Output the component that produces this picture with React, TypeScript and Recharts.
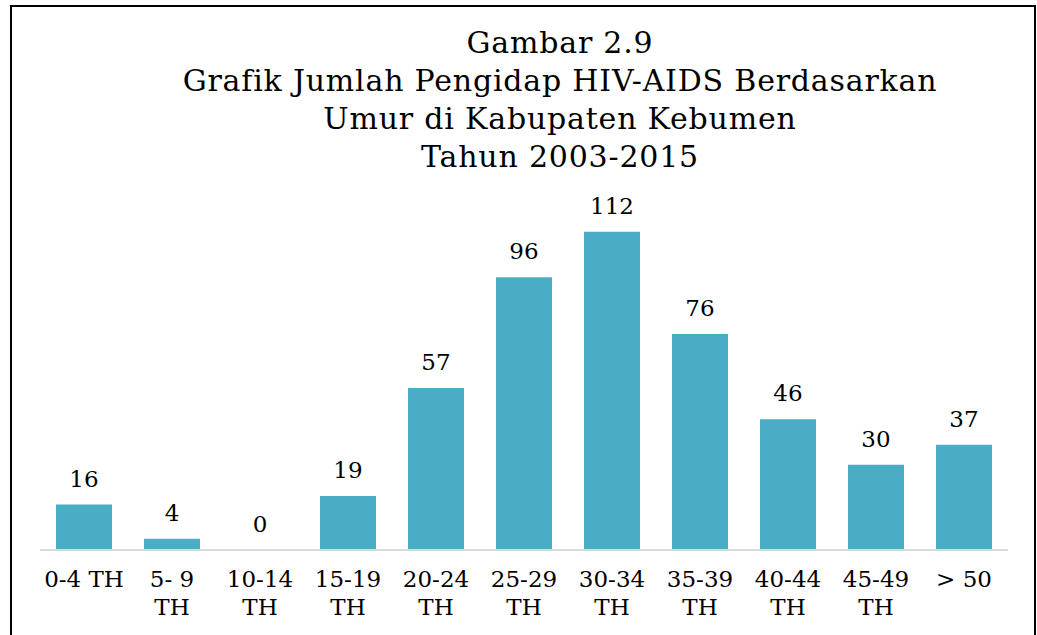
import React from "react";
import { ComposedChart, Bar, Line, XAxis, YAxis, LabelList } from "recharts";

const categories = ["0-4 TH", "5- 9 TH", "10-14 TH", "15-19 TH", "20-24 TH", "25-29 TH", "30-34 TH", "35-39 TH", "40-44 TH", "45-49 TH", "> 50"];
const values = [16, 4, 0, 19, 57, 96, 112, 76, 46, 30, 37];
const titleLines = ["Gambar 2.9", "Grafik Jumlah Pengidap HIV-AIDS Berdasarkan", "Umur di Kabupaten Kebumen", "Tahun 2003-2015"];

const data = categories.map((c, i) => ({ name: c, value: values[i] }));

const FONT = "'DejaVu Serif', serif";

const Tick = (props: any) => {
  const { x, y, payload } = props;
  const label: string = payload.value;
  let lines: string[] = [label];
  if (label.length > 6) {
    const idx = label.lastIndexOf(" ");
    lines = [label.slice(0, idx), label.slice(idx + 1)];
  }
  return (
    <text x={x} y={y} textAnchor="middle" fontFamily={FONT} fontSize={23} fill="#000">
      {lines.map((l, i) => (
        <tspan key={i} x={x} dy={i === 0 ? 37 : 28}>{l}</tspan>
      ))}
    </text>
  );
};

export default function App() {
  return (
    <div style={{ position: "absolute", left: 0, top: 0, width: 1037, height: 635, overflow: "hidden", background: "#fff" }}>
      <div style={{ position: "absolute", left: 10, top: 5, width: 1026, height: 700, border: "2px solid #000", boxSizing: "border-box" }} />
      <div style={{ position: "absolute", left: 260, top: 24, width: 600, textAlign: "center", fontFamily: FONT, fontSize: 30, letterSpacing: 0.8, lineHeight: "38px", color: "#000", whiteSpace: "nowrap", display: "flex", flexDirection: "column", alignItems: "center" }}>
        {titleLines.map((t, i) => (
          <div key={i}>{t}</div>
        ))}
      </div>
      <div style={{ position: "absolute", left: 0, top: 0 }}>
        <ComposedChart width={1037} height={635} data={data} margin={{ top: 209, right: 29, bottom: 55, left: 40 }} barSize={56}>
          <XAxis dataKey="name" height={30} axisLine={{ stroke: "#D9D9D9", strokeWidth: 2 }} tickLine={false} tickSize={0} tickMargin={0} interval={0} tick={<Tick />} />
          <YAxis hide domain={[0, 120]} />
          <Bar dataKey="value" fill="#4BACC6" isAnimationActive={false} />
          <Line dataKey="value" stroke="none" dot={false} activeDot={false} isAnimationActive={false}>
            <LabelList dataKey="value" position="top" offset={18} fontFamily={FONT} fontSize={23} fill="#000" />
          </Line>
        </ComposedChart>
      </div>
    </div>
  );
}
